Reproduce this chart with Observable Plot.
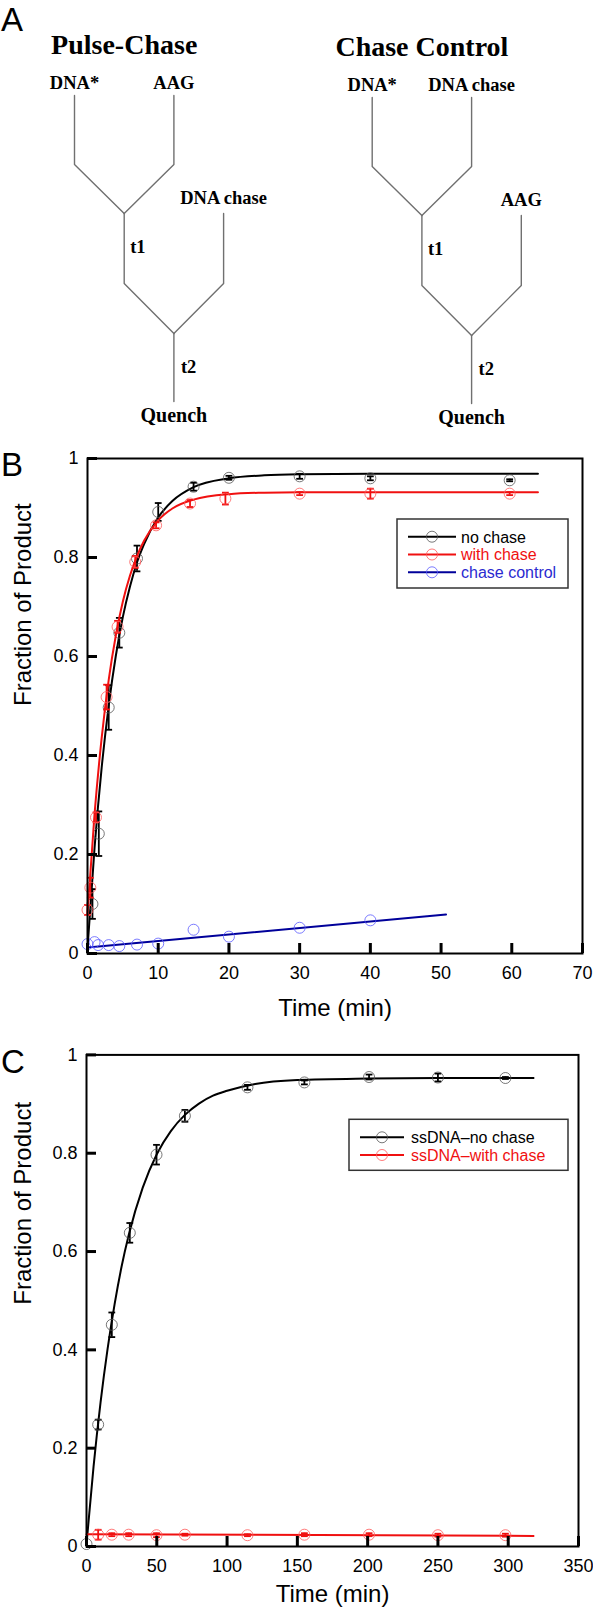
<!DOCTYPE html>
<html><head><meta charset="utf-8">
<script src="https://cdn.jsdelivr.net/npm/d3@7"></script>
<script src="https://cdn.jsdelivr.net/npm/@observablehq/plot@0.6"></script>
<style>
body{margin:0;background:#fff;}
#root{position:relative;width:593px;height:1611px;overflow:hidden;background:#fff;}
</style></head><body><div id="root"></div>
<script>
// ---------------- DATA ----------------
const panelLetters = ["A", "B", "C"];

// Panel A schematic
const diagramTitles = ["Pulse-Chase", "Chase Control"];
const diagramInputs = [["DNA*", "AAG", "DNA chase"], ["DNA*", "DNA chase", "AAG"]];
const diagramTimes = ["t1", "t2"];
const diagramEnd = "Quench";

// Panel B
const bTicksX = [0, 10, 20, 30, 40, 50, 60, 70];
const bTicksY = [0, 0.2, 0.4, 0.6, 0.8, 1];
const bSeries = ["no chase", "with chase", "chase control"];
const bNoChaseT = [0.7, 1.6, 3, 4.5, 7, 10, 15, 20, 30, 40, 59.7];
const bNoChaseV = [0.10, 0.242, 0.497, 0.648, 0.798, 0.892, 0.943, 0.961, 0.964, 0.960, 0.956];
const bNoChaseE = [0.03, 0.045, 0.045, 0.03, 0.026, 0.018, 0.008, 0.004, 0.005, 0.004, 0.002];
const bWithChaseT = [0, 0.4, 1.2, 2.7, 4.25, 6.75, 9.7, 14.5, 19.5, 30, 40, 59.7];
const bWithChaseV = [0.088, 0.133, 0.275, 0.518, 0.660, 0.791, 0.865, 0.909, 0.919, 0.929, 0.929, 0.929];
const bWithChaseE = [0.01, 0.02, 0.01, 0.025, 0.012, 0.012, 0.006, 0.007, 0.012, 0.003, 0.01, 0.003];
const bControlT = [0, 1, 1.5, 3, 4.5, 7, 10, 15, 20, 30, 40];
const bControlV = [0.019, 0.023, 0.017, 0.017, 0.015, 0.018, 0.020, 0.048, 0.034, 0.052, 0.067];
// fitted curves
const bNoChaseFitT = [0, 1, 2, 3, 4, 5, 6, 7, 8, 10, 12, 15, 20, 25, 30, 40, 63.7];
const bNoChaseFitV = [0.01, 0.214, 0.375, 0.501, 0.601, 0.68, 0.741, 0.79, 0.827, 0.881, 0.914, 0.942, 0.96, 0.966, 0.968, 0.969, 0.969];
const bWithChaseFitT = [0, 1, 2, 3, 4, 5, 6, 7, 8, 10, 12, 15, 20, 25, 30, 40, 63.7];
const bWithChaseFitV = [0.08, 0.282, 0.435, 0.553, 0.642, 0.711, 0.763, 0.803, 0.834, 0.875, 0.899, 0.917, 0.928, 0.931, 0.932, 0.932, 0.932];
const bControlFitT = [0, 50.7];
const bControlFitV = [0.012, 0.079];

// Panel C
const cTicksX = [0, 50, 100, 150, 200, 250, 300, 350];
const cTicksY = [0, 0.2, 0.4, 0.6, 0.8, 1];
const cSeries = ["ssDNA\u2013no chase", "ssDNA\u2013with chase"];
const cNoChaseT = [0, 8.3, 18, 30.8, 49.8, 70, 114.5, 155, 201, 250, 298];
const cNoChaseV = [0.005, 0.248, 0.451, 0.638, 0.797, 0.876, 0.934, 0.944, 0.955, 0.954, 0.953];
const cNoChaseE = [0, 0.01, 0.025, 0.02, 0.02, 0.012, 0.005, 0.004, 0.005, 0.008, 0.002];
const cWithChaseT = [8.3, 18, 30, 49.8, 70, 114.5, 155, 201, 250, 298];
const cWithChaseV = [0.024, 0.024, 0.024, 0.023, 0.024, 0.023, 0.024, 0.024, 0.023, 0.023];
const cWithChaseE = [0.01, 0.003, 0.003, 0.004, 0.002, 0.002, 0.003, 0.003, 0.003, 0.003];
const cNoChaseFitT = [0, 5, 10, 15, 20, 25, 30, 40, 50, 60, 70, 80, 90, 100, 120, 150, 200, 250, 318];
const cNoChaseFitV = [0.005, 0.162, 0.293, 0.402, 0.493, 0.570, 0.633, 0.730, 0.798, 0.845, 0.878, 0.901, 0.917, 0.927, 0.941, 0.949, 0.952, 0.953, 0.953];
const cWithChaseFitT = [0, 318];
const cWithChaseFitV = [0.025, 0.0215];

// ---------------- STYLE ----------------
const SANS = "'Liberation Sans', Arial, Helvetica, sans-serif";
const SERIF = "'Liberation Serif', 'Times New Roman', serif";
const colBlack = "#000", colRed = "#f01010", colBlue = "#00009a";
const dotBlack = "#555", dotRed = "#ff5a5a", dotBlue = "#5a5aff";
const txtBlue = "#2a2ad0";

const zip = (T, V, E) => T.map((t, i) => ({t, v: V[i], e: E ? E[i] : 0}));
const capSymbol = {draw(ctx, size) { const w = Math.sqrt(size / Math.PI); ctx.moveTo(-w, 0); ctx.lineTo(w, 0); }};
const fmt = d => String(d);

function errorMarks(data, color) {
  const d2 = data.filter(d => d.e > 0);
  return [
    Plot.ruleX(d2, {x: "t", y1: d => d.v - d.e, y2: d => d.v + d.e, stroke: color, strokeWidth: 1.8}),
    Plot.dot(d2, {x: "t", y: d => d.v - d.e, symbol: capSymbol, r: 3.4, stroke: color, strokeWidth: 1.8, fill: "none"}),
    Plot.dot(d2, {x: "t", y: d => d.v + d.e, symbol: capSymbol, r: 3.4, stroke: color, strokeWidth: 1.8, fill: "none"})
  ];
}
// inward ticks (10 px long) drawn by the axis marks, shifted into the frame
function axisMarks(tx, ty) {
  return [
    Plot.axisX({ticks: tx, tickSize: 0, tickPadding: 13, tickFormat: fmt, label: null, fontSize: 18}),
    Plot.axisY({ticks: ty, tickSize: 0, tickPadding: 9, tickFormat: fmt, label: null, fontSize: 18}),
    Plot.axisX({ticks: tx, tickSize: 10, dy: -10, fill: "none", label: null, strokeWidth: 3, stroke: "#000"}),
    Plot.axisY({ticks: ty, tickSize: 10, dx: 10, fill: "none", label: null, strokeWidth: 3, stroke: "#000"})
  ];
}

const root = document.getElementById("root");
function place(node, top) { node.style.position = "absolute"; node.style.left = "0px"; node.style.top = top + "px"; node.style.margin = "0"; root.appendChild(node); }

// ---------------- PANEL A ----------------
const colW = 49.7;
const diagramOrigins = [{x0: 74, y0: 0}, {x0: 371.7, y0: 2}];
const lv = {top: 95, bend1: 164, join1: 213, bend2: 283, join2: 333, end: 401};
const segs = [], titles = [], labels = [], times = [], ends = [];
diagramOrigins.forEach((o, k) => {
  const c = i => o.x0 + i * colW, y = v => v + o.y0;
  const paths = [
    [[c(0), lv.top], [c(0), lv.bend1], [c(1), lv.join1]],
    [[c(2), lv.top], [c(2), lv.bend1], [c(1), lv.join1]],
    [[c(1), lv.join1], [c(1), lv.bend2], [c(2), lv.join2]],
    [[c(3), lv.join1], [c(3), lv.bend2], [c(2), lv.join2]],
    [[c(2), lv.join2], [c(2), lv.end]]
  ];
  paths.forEach((p, j) => p.forEach(([px, py]) => segs.push({x: px, y: y(py), seg: k + "-" + j})));
  titles.push({x: c(1), y: y(53), text: diagramTitles[k]});
  labels.push({x: c(0), y: y(88), text: diagramInputs[k][0]});
  labels.push({x: c(2), y: y(88), text: diagramInputs[k][1]});
  labels.push({x: c(3), y: y(203), text: diagramInputs[k][2]});
  times.push({x: c(1) + 6, y: y(252), text: diagramTimes[0]});
  times.push({x: c(2) + 7, y: y(372), text: diagramTimes[1]});
  ends.push({x: c(2), y: y(421), text: diagramEnd});
});
const plotA = Plot.plot({
  width: 593, height: 430, margin: 0,
  x: {domain: [0, 593], range: [0, 593], axis: null},
  y: {domain: [0, 430], range: [0, 430], axis: null},
  style: {background: "transparent", fontFamily: SERIF, color: "#000"},
  marks: [
    Plot.line(segs, {x: "x", y: "y", z: "seg", stroke: "#707070", strokeWidth: 1.4}),
    Plot.text(titles, {x: "x", y: "y", text: "text", fontSize: 28, fontWeight: "bold", lineAnchor: "bottom", textAnchor: "middle"}),
    Plot.text(labels, {x: "x", y: "y", text: "text", fontSize: 18.5, fontWeight: "bold", lineAnchor: "bottom", textAnchor: "middle"}),
    Plot.text(times, {x: "x", y: "y", text: "text", fontSize: 18.5, fontWeight: "bold", lineAnchor: "bottom", textAnchor: "start"}),
    Plot.text(ends, {x: "x", y: "y", text: "text", fontSize: 20, fontWeight: "bold", lineAnchor: "bottom", textAnchor: "middle"})
  ]
});
place(plotA, 0);

// ---------------- PANEL B ----------------
const bNo = zip(bNoChaseT, bNoChaseV, bNoChaseE);
const bWith = zip(bWithChaseT, bWithChaseV, bWithChaseE);
const bCtl = zip(bControlT, bControlV);
const plotB = Plot.plot({
  width: 593, height: 590, marginTop: 28, marginBottom: 67, marginLeft: 87, marginRight: 11,
  x: {domain: [0, 70]},
  y: {domain: [0, 1]},
  style: {background: "transparent", fontFamily: SANS, fontSize: "18px", color: "#000", overflow: "visible"},
  marks: [
    Plot.line(zip(bControlFitT, bControlFitV), {x: "t", y: "v", stroke: colBlue, strokeWidth: 2}),
    Plot.dot(bCtl, {x: "t", y: "v", r: 5.5, stroke: dotBlue, strokeWidth: 0.8, fill: "none"}),
    Plot.line(zip(bNoChaseFitT, bNoChaseFitV), {x: "t", y: "v", stroke: colBlack, strokeWidth: 2, curve: "monotone-x"}),
    ...errorMarks(bNo, colBlack),
    Plot.dot(bNo, {x: "t", y: "v", r: 5.5, stroke: dotBlack, strokeWidth: 0.8, fill: "none"}),
    Plot.line(zip(bWithChaseFitT, bWithChaseFitV), {x: "t", y: "v", stroke: colRed, strokeWidth: 2, curve: "monotone-x"}),
    ...errorMarks(bWith, colRed),
    Plot.dot(bWith, {x: "t", y: "v", r: 5.5, stroke: dotRed, strokeWidth: 0.8, fill: "none"}),
    Plot.frame({stroke: "#000", strokeWidth: 2}),
    ...axisMarks(bTicksX, bTicksY),
    Plot.text(["Time (min)"], {frameAnchor: "bottom", dy: 62, lineAnchor: "bottom", fontSize: 24}),
    Plot.text(["Fraction of Product"], {frameAnchor: "left", dx: -57, rotate: -90, lineAnchor: "bottom", fontSize: 24})
  ]
});
place(plotB, 430);

// ---------------- PANEL C ----------------
const cNo = zip(cNoChaseT, cNoChaseV, cNoChaseE);
const cWith = zip(cWithChaseT, cWithChaseV, cWithChaseE);
const plotC = Plot.plot({
  width: 593, height: 591, marginTop: 34.4, marginBottom: 65, marginLeft: 86, marginRight: 15,
  x: {domain: [0, 350]},
  y: {domain: [0, 1]},
  style: {background: "transparent", fontFamily: SANS, fontSize: "18px", color: "#000", overflow: "visible"},
  marks: [
    Plot.line(zip(cNoChaseFitT, cNoChaseFitV), {x: "t", y: "v", stroke: colBlack, strokeWidth: 2, curve: "monotone-x"}),
    ...errorMarks(cNo, colBlack),
    Plot.dot(cNo, {x: "t", y: "v", r: 5.5, stroke: dotBlack, strokeWidth: 0.8, fill: "none"}),
    Plot.line(zip(cWithChaseFitT, cWithChaseFitV), {x: "t", y: "v", stroke: colRed, strokeWidth: 2}),
    ...errorMarks(cWith, colRed),
    Plot.dot(cWith, {x: "t", y: "v", r: 5.5, stroke: dotRed, strokeWidth: 0.8, fill: "none"}),
    Plot.frame({stroke: "#000", strokeWidth: 2}),
    ...axisMarks(cTicksX, cTicksY),
    Plot.text(["Time (min)"], {frameAnchor: "bottom", dy: 55, lineAnchor: "bottom", fontSize: 24}),
    Plot.text(["Fraction of Product"], {frameAnchor: "left", dx: -56, dy: 4, rotate: -90, lineAnchor: "bottom", fontSize: 24})
  ]
});
place(plotC, 1020);

// ---------------- OVERLAY: panel letters + legends ----------------
const ov = d3.create("svg").attr("width", 593).attr("height", 1611)
  .style("position", "absolute").style("left", "0px").style("top", "0px")
  .style("font-family", SANS);
const letterPos = [[1, 31, 33], [1, 476, 33], [1, 1073, 33]];
panelLetters.forEach((L, i) => ov.append("text").attr("x", letterPos[i][0]).attr("y", letterPos[i][1])
  .attr("font-size", letterPos[i][2]).attr("fill", "#000").text(L));

function legend(x, y, w, h, rowY0, rowDy, lineX1, lineX2, textX, names, lineCols, dotCols, textCols) {
  const g = ov.append("g");
  g.append("rect").attr("x", x).attr("y", y).attr("width", w).attr("height", h)
    .attr("fill", "#fff").attr("stroke", "#333").attr("stroke-width", 1.5);
  names.forEach((n, i) => {
    const ry = rowY0 + i * rowDy;
    g.append("line").attr("x1", lineX1).attr("x2", lineX2).attr("y1", ry).attr("y2", ry)
      .attr("stroke", lineCols[i]).attr("stroke-width", 2);
    g.append("circle").attr("cx", (lineX1 + lineX2) / 2).attr("cy", ry).attr("r", 5.5)
      .attr("fill", "none").attr("stroke", dotCols[i]).attr("stroke-width", 0.8);
    g.append("text").attr("x", textX).attr("y", ry + 5.8).attr("font-size", 16)
      .attr("fill", textCols[i]).text(n);
  });
}
legend(397, 519, 171, 69, 536.7, 17.8, 408, 456, 461, bSeries,
  [colBlack, colRed, colBlue], [dotBlack, dotRed, dotBlue], ["#000", colRed, txtBlue]);
legend(349, 1119.3, 219, 51, 1137.3, 17.7, 360, 404, 411, cSeries,
  [colBlack, colRed], [dotBlack, dotRed], ["#000", colRed]);
root.appendChild(ov.node());
</script>
</body></html>
